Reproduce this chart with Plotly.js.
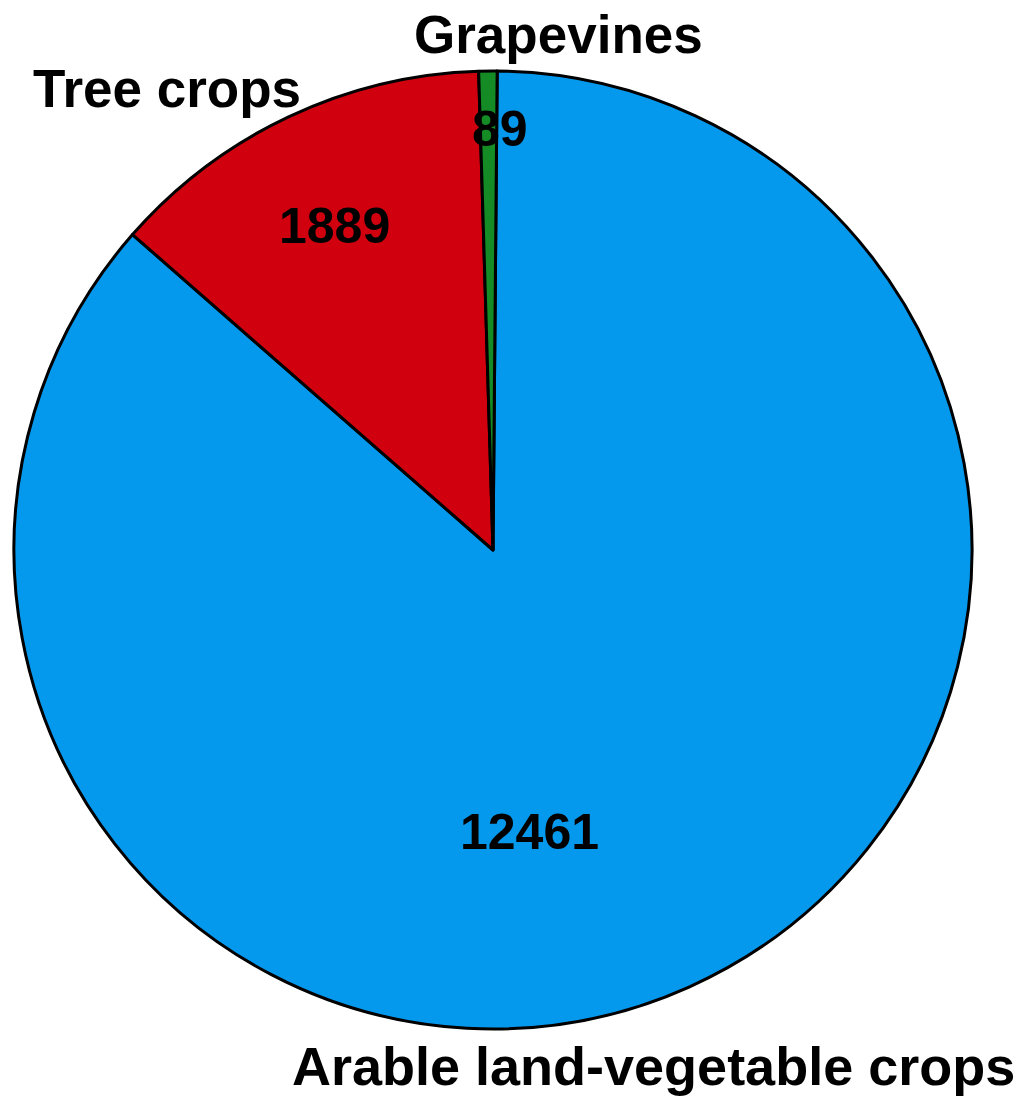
<!DOCTYPE html>
<html>
<head>
<meta charset="utf-8">
<script src="https://cdn.plot.ly/plotly-3.0.1.min.js"></script>
<style>
html,body{margin:0;padding:0;background:#fff;}
#chart{width:1024px;height:1104px;}
</style>
</head>
<body>
<div id="chart"></div>
<script>
const categories = ["Arable land-vegetable crops", "Tree crops", "Grapevines"];
const values = [12461, 1889, 89];
const sliceColors = ["#0599EE", "#D0000E", "#148B24"];

// label placement (pixel centres in the 1024x1104 page)
const W = 1024, H = 1104;
const namePos = [[653, 1066], [167, 89], [558, 34]];
const nameSizes = [54, 53, 53];
const valuePos = [[529, 832], [334, 226], [500, 129]];

const font = "Liberation Sans, Arial, sans-serif";

const annotations = [];
categories.forEach((c, i) => {
  annotations.push({
    text: "<b>" + c + "</b>", xref: "paper", yref: "paper",
    x: namePos[i][0] / W, y: 1 - namePos[i][1] / H,
    xanchor: "center", yanchor: "middle", showarrow: false,
    font: {family: font, size: nameSizes[i], color: "#000"}
  });
  annotations.push({
    text: "<b>" + values[i] + "</b>", xref: "paper", yref: "paper",
    x: valuePos[i][0] / W, y: 1 - valuePos[i][1] / H,
    xanchor: "center", yanchor: "middle", showarrow: false,
    font: {family: font, size: 50, color: "#000"}
  });
});

const cx = 493, cy = 550, r = 479;

const trace = {
  type: "pie",
  labels: categories,
  values: values,
  sort: false,
  direction: "clockwise",
  rotation: 0.5,
  textinfo: "none",
  hoverinfo: "label+value",
  marker: {colors: sliceColors, line: {color: "#000", width: 3}},
  domain: {x: [(cx - r) / W, (cx + r) / W], y: [1 - (cy + r) / H, 1 - (cy - r) / H]},
  showlegend: false
};

Plotly.newPlot("chart", [trace], {
  width: W, height: H,
  margin: {l: 0, r: 0, t: 0, b: 0},
  paper_bgcolor: "#fff",
  showlegend: false,
  annotations: annotations
}, {displayModeBar: false, staticPlot: true});
</script>
</body>
</html>
